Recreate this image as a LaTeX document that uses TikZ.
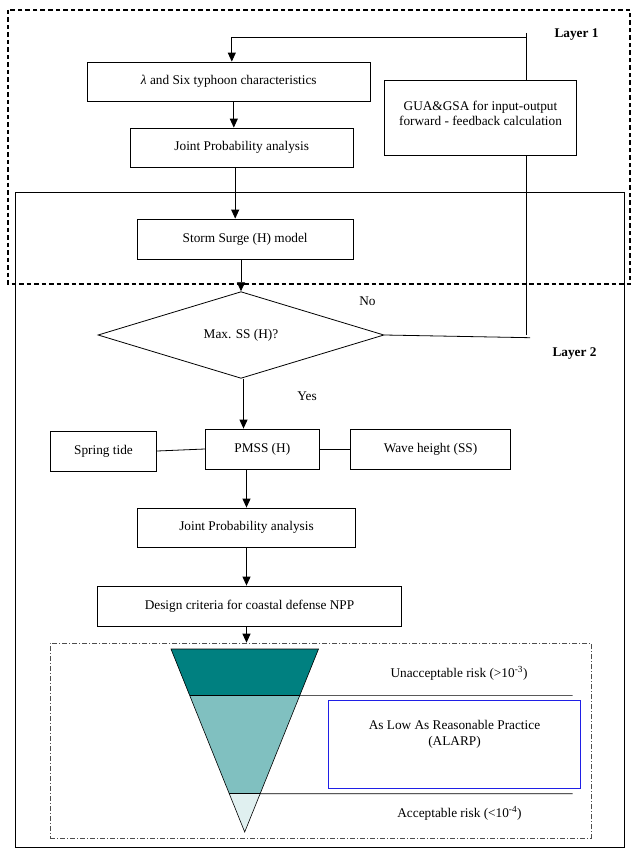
\documentclass[tikz,border=0pt]{standalone}
\usepackage{fontspec}
\setmainfont{Liberation Serif}
\usetikzlibrary{positioning,shapes.geometric,arrows.meta,calc}

\definecolor{darkteal}{HTML}{008080}
\definecolor{midteal}{HTML}{80C0C0}
\definecolor{paleteal}{HTML}{E0F0F0}
\definecolor{alarpblue}{HTML}{1F1FE6}

\begin{document}
\begin{tikzpicture}[x=1pt,y=-1pt,
        box/.style={draw, line width=0.8pt, inner sep=2pt, align=center, font=\fontsize{13.3}{15}\selectfont},
        arr/.style={-{Triangle[length=9pt,width=8pt]}, line width=0.9pt},
        lbl/.style={font=\fontsize{13.3}{15}\selectfont},
        layerlbl/.style={font=\bfseries\fontsize{13.3}{15}\selectfont}]
        \useasboundingbox (0,0) rectangle (635,853);
        \draw[line width=1.2pt, dash pattern=on 4.5pt off 3pt] (8,10) rectangle (630,284); %Layer 1
        \draw[line width=0.8pt] (15,192) rectangle (624,847); %Layer 2
        \node[layerlbl] (lay1) at (576.5,35) {Layer 1};
        \node[layerlbl] (lay2) at (574.5,354) {Layer 2};
        % upper flow
        \node[box, minimum width=283.7, minimum height=39] (typh) at (228.8,81.5) {\textit{λ} and Six typhoon characteristics};
        \node[box, minimum width=223.3, minimum height=39] (jpa) at (241.7,147.5) {Joint Probability analysis};
        \node[box, minimum width=192.4, minimum height=75] (gua) at (480.5,117.5) {GUA\&GSA for input-output\\forward - feedback calculation\\[-7pt]\mbox{}};
        \node[box, minimum width=216.3, minimum height=40] (surge) at (245.2,239) {Storm Surge (H) model};
        \node[draw, diamond, line width=0.8pt, inner sep=0pt, minimum width=286, minimum height=78, lbl] (maxss) at (241,335) {Max. SS (H)?};
        \node[lbl] (no) at (367.5,301) {No};
        \node[lbl] (yes) at (307,396) {Yes};
        % lower flow
        \node[box, minimum width=114, minimum height=40] (pmss) at (262.3,449) {PMSS (H)};
        \node[box, minimum width=106.4, minimum height=40] (tide) at (103.5,451) {Spring tide};
        \node[box, minimum width=160.4, minimum height=40] (wave) at (430.5,449) {Wave height (SS)};
        \node[box, minimum width=218.4, minimum height=39] (jpb) at (246.5,527.5) {Joint Probability analysis};
        \node[box, minimum width=304.4, minimum height=40] (design) at (249.5,606) {Design criteria for coastal defense NPP};
        % risk part
        \node[draw, line width=0.6pt, gray!60!black, dash pattern=on 5pt off 2pt on 1pt off 2pt, minimum width=541, minimum height=195, inner sep=0pt] (risk) at (320.5,740.5) {};
        \coordinate (tl) at (171,649);
        \coordinate (tr) at (318.5,649);
        \coordinate (apex) at (244.7,832);
        \begin{scope}
            \clip (tl) -- (tr) -- (apex) -- cycle;
            \fill[paleteal] (160,640) rectangle (330,840);
            \fill[midteal] (160,640) rectangle (330,793.7);
            \fill[darkteal] (160,640) rectangle (330,695.3);
        \end{scope}
        \draw[line width=0.6pt] (tl) -- (tr) -- (apex) -- cycle; %三角
        \draw[line width=1.3pt] ($(tl)!0.253!(apex)$) -- ($(tr)!0.253!(apex)$);
        \draw[line width=1.3pt] ($(tl)!0.791!(apex)$) -- ($(tr)!0.791!(apex)$);
        \coordinate (cutA) at (572.7,695.3);
        \coordinate (cutB) at (572.7,793.7);
        \draw[line width=0.6pt] ($(tr)!0.253!(apex)$) -- (cutA);
        \draw[line width=0.6pt] ($(tr)!0.791!(apex)$) -- (cutB);
        \node[draw=alarpblue, line width=0.8pt, minimum width=252.4, minimum height=88, align=center, font=\fontsize{13.3}{16}\selectfont] (alarp) at (454.5,744) {As Low As Reasonable Practice\\(ALARP)\\[6pt]\mbox{}};
        \node[lbl] (unacc) at (459,673) {Unacceptable risk (>10\textsuperscript{-3})};
        \node[lbl] (acc) at (459.5,813) {Acceptable risk (<10\textsuperscript{-4})};
        % connectors
        \coordinate (fb) at (526,37);
        \coordinate (fbin) at ([xshift=3pt]typh.north);
        \coordinate (noend) at (530,337.7);
        \draw[arr] (fb) -- (fb -| fbin) -- (fbin);
        \draw[line width=0.8pt] ($(fb)+(0,-4)$) -- (fb |- gua.north);
        \draw[line width=0.8pt] (fb |- gua.south) -- (fb |- maxss.east);
        \draw[line width=0.8pt] (maxss.east) -- (noend);
        \draw[arr] ([xshift=5pt]typh.south) -- ([xshift=5pt]typh.south |- jpa.north);
        \draw[arr] ([xshift=-6.5pt]jpa.south) -- ([xshift=-6.5pt]jpa.south |- surge.north);
        \draw[arr] (maxss.north |- surge.south) -- (maxss.north);
        \draw[arr] ([xshift=2.5pt]maxss.south) -- ([xshift=2.5pt]maxss.south |- pmss.north);
        \draw[line width=0.8pt] (tide.east) -- (pmss.west);
        \draw[line width=0.8pt] (pmss.east) -- (wave.west);
        \draw[arr] (jpb.north |- pmss.south) -- (jpb.north);
        \draw[arr] (jpb.south) -- (jpb.south |- design.north);
        \draw[arr] ([xshift=-3pt]design.south) -- ([xshift=-3pt]design.south |- risk.north);
    \end{tikzpicture}
\end{document}
